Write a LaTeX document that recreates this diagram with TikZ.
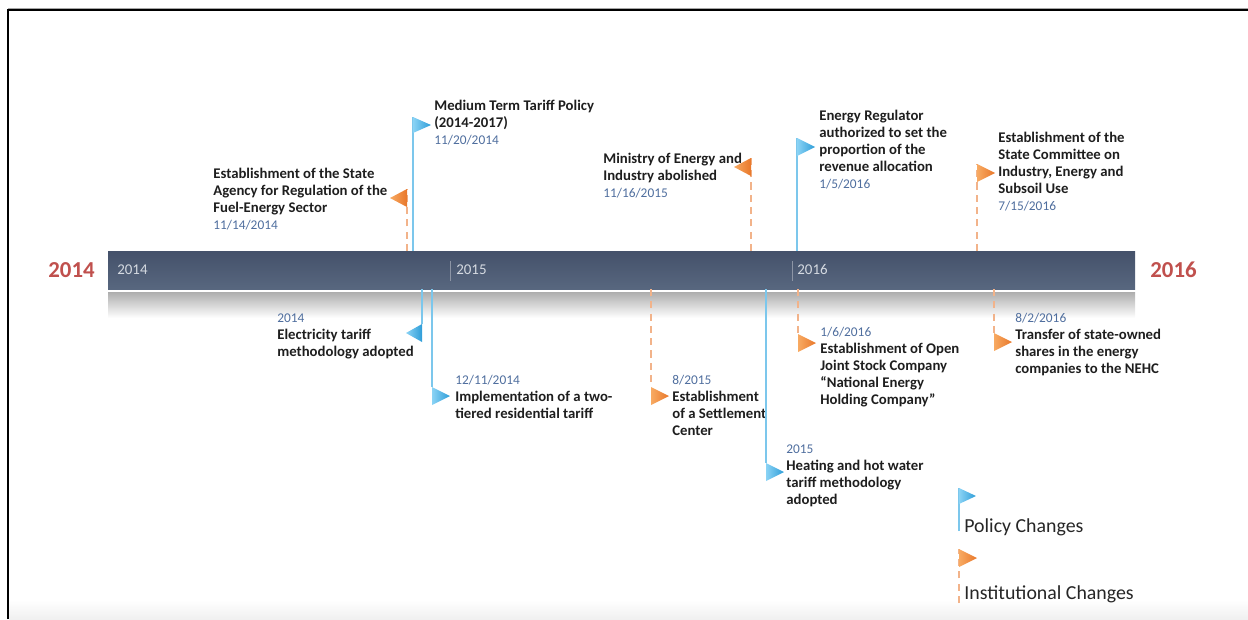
\documentclass[tikz,border=0pt]{standalone}
\usepackage{fontspec}
\setmainfont{Carlito}
\definecolor{bardark}{HTML}{44516A}
\definecolor{barlight}{HTML}{58677F}
\definecolor{barfont}{HTML}{D5DAE1}
\definecolor{polblue}{HTML}{2E9DD8}
\definecolor{pollight}{HTML}{8AD3F5}
\definecolor{polline}{HTML}{7CC7EC}
\definecolor{instorange}{HTML}{E8772A}
\definecolor{instlight}{HTML}{F8AA62}
\definecolor{instline}{HTML}{F2B38A}
\definecolor{datecol}{HTML}{4F6E9E}
\definecolor{labcol}{HTML}{1E1E1E}
\definecolor{yearred}{HTML}{C0504D}
\newcommand{\evdate}[1]{{\mdseries\fontsize{7.6}{9.7}\selectfont\color{datecol}#1}}
\begin{document}
\begin{tikzpicture}[x=0.02cm,y=-0.02cm]
			\tikzstyle{ev}=[anchor=north west,inner sep=0pt,align=left,text=labcol,font=\fontsize{8.4}{9.7}\selectfont\bfseries]
			\tikzstyle{barlab}=[anchor=base west,inner sep=0pt,text=barfont,font=\fontsize{8.5}{10}\selectfont]
			\tikzstyle{bigyear}=[anchor=base west,inner sep=0pt,text=yearred,font=\fontsize{13}{15}\selectfont\bfseries]
			\tikzstyle{legtext}=[anchor=base west,inner sep=0pt,text=black!85,font=\fontsize{11.3}{13}\selectfont]
			\tikzstyle{polpole}=[draw=polline,line width=0.6pt]
			\tikzstyle{instpole}=[draw=instline,line width=0.8pt,dash pattern=on 4pt off 3pt]
			\tikzstyle{polflag}=[left color=pollight,right color=polblue]
			\tikzstyle{instflag}=[left color=instlight,right color=instorange]
			\useasboundingbox (0,0) rectangle (1248,619);
			
			% frame and bar
			\shade[top color=white,bottom color=black!6] (9,600) rectangle (1248,619);
			\draw[black!35,line width=0.4pt] (8,8) -- (1248,8);
			\draw[black,line width=1.1pt] (8,619) -- (8,10) -- (1248,10);
			\shade[top color=bardark,bottom color=barlight] (108,251) rectangle (1135,289);
			\shade[top color=black!32,bottom color=white] (108,292) rectangle (1135,318);
			\draw[barfont!50!bardark,line width=0.4pt] (450,261) -- (450,281);
			\draw[barfont!50!bardark,line width=0.4pt] (792,261) -- (792,281);
			
			\begin{scope}
			\node[barlab] (y14) at (117,274.5) {2014};
			\node[barlab] (y15) at (456,274.5) {2015};
			\node[barlab] (y16) at (797,274.5) {2016};
			\node[bigyear] (start) at (48,277.5) {2014};
			\node[bigyear] (end) at (1150,277.5) {2016};
			
			\node[ev] (agency) at (213,168) {Establishment of the State\\Agency for Regulation of the\\Fuel-Energy Sector\\\evdate{11/14/2014}};
			\node[ev] (tariffpol) at (434,100) {Medium Term Tariff Policy\\(2014-2017)\\\evdate{11/20/2014}};
			\node[ev] (ministry) at (603,153) {Ministry of Energy and\\Industry abolished\\\evdate{11/16/2015}};
			\node[ev] (regulator) at (819,110) {Energy Regulator\\authorized to set the\\proportion of the\\revenue allocation\\\evdate{1/5/2016}};
			\node[ev] (committee) at (998,132) {Establishment of the\\State Committee on\\Industry, Energy and\\Subsoil Use\\\evdate{7/15/2016}};
			
			\node[ev] (electariff) at (277,313) {\evdate{2014}\\Electricity tariff\\methodology adopted};
			\node[ev] (twotier) at (455,375) {\evdate{12/11/2014}\\Implementation of a two-\\tiered residential tariff};
			\node[ev] (settle) at (672,375) {\evdate{8/2015}\\Establishment\\of a Settlement\\Center};
			\node[ev] (heating) at (786,444) {\evdate{2015}\\Heating and hot water\\tariff methodology\\adopted};
			\node[ev] (nehc) at (820,327) {\evdate{1/6/2016}\\Establishment of Open\\Joint Stock Company\\``National Energy\\Holding Company''};
			\node[ev] (transfer) at (1015,313) {\evdate{8/2/2016}\\Transfer of state-owned\\shares in the energy\\companies to the NEHC};
			
			\node[legtext] (legpol) at (964,532) {Policy Changes};
			\node[legtext] (leginst) at (964,599) {Institutional Changes};
			\end{scope}
			
			% pole ends
			\coordinate (agency-b) at (407,251);    \coordinate (agency-f) at (407,189);
			\coordinate (tariffpol-b) at (413,251); \coordinate (tariffpol-f) at (413,117);
			\coordinate (ministry-b) at (751,251);  \coordinate (ministry-f) at (751,158);
			\coordinate (regulator-b) at (797,251); \coordinate (regulator-f) at (797,138);
			\coordinate (committee-b) at (977,251); \coordinate (committee-f) at (977,164);
			\coordinate (electariff-b) at (422,289); \coordinate (electariff-f) at (422,324);
			\coordinate (twotier-b) at (432,289);   \coordinate (twotier-f) at (432,387);
			\coordinate (settle-b) at (651,289);    \coordinate (settle-f) at (651,387);
			\coordinate (heating-b) at (766,289);   \coordinate (heating-f) at (766,463);
			\coordinate (nehc-b) at (798,289);      \coordinate (nehc-f) at (798,334);
			\coordinate (transfer-b) at (994,289);  \coordinate (transfer-f) at (994,333);
			\coordinate (legpol-b) at (959,531);    \coordinate (legpol-f) at (959,488);
			\coordinate (leginst-b) at (959,603);   \coordinate (leginst-f) at (959,549);
			
			\path[polpole]
			(tariffpol-b) edge (tariffpol-f)
			(regulator-b) edge (regulator-f)
			(electariff-b) edge (electariff-f)
			(twotier-b) edge (twotier-f)
			(heating-b) edge (heating-f)
			(legpol-b) edge (legpol-f)
			;
			\path[instpole]
			(agency-b) edge (agency-f)
			(ministry-b) edge (ministry-f)
			(committee-b) edge (committee-f)
			(settle-b) edge (settle-f)
			(nehc-b) edge (nehc-f)
			(transfer-b) edge (transfer-f)
			(leginst-b) edge (leginst-f)
			;
			
			% flags
			\shade[polflag] (tariffpol-f) -- ++(18,8) -- ++(-18,8) -- cycle;
			\shade[polflag] (regulator-f) -- ++(18,9) -- ++(-18,9) -- cycle;
			\shade[polflag] (electariff-f) -- ++(-16,9) -- ++(16,9) -- cycle;
			\shade[polflag] (twotier-f) -- ++(18,9) -- ++(-18,9) -- cycle;
			\shade[polflag] (heating-f) -- ++(18,9) -- ++(-18,9) -- cycle;
			\shade[polflag] (legpol-f) -- ++(17,8) -- ++(-17,8) -- cycle;
			\shade[instflag] (agency-f) -- ++(-17,9) -- ++(17,9) -- cycle;
			\shade[instflag] (ministry-f) -- ++(-17,9) -- ++(17,9) -- cycle;
			\shade[instflag] (committee-f) -- ++(18,9) -- ++(-18,9) -- cycle;
			\shade[instflag] (settle-f) -- ++(18,9) -- ++(-18,9) -- cycle;
			\shade[instflag] (nehc-f) -- ++(18,9) -- ++(-18,9) -- cycle;
			\shade[instflag] (transfer-f) -- ++(18,9) -- ++(-18,9) -- cycle;
			\shade[instflag] (leginst-f) -- ++(18,9) -- ++(-18,9) -- cycle;
		\end{tikzpicture}
\end{document}
